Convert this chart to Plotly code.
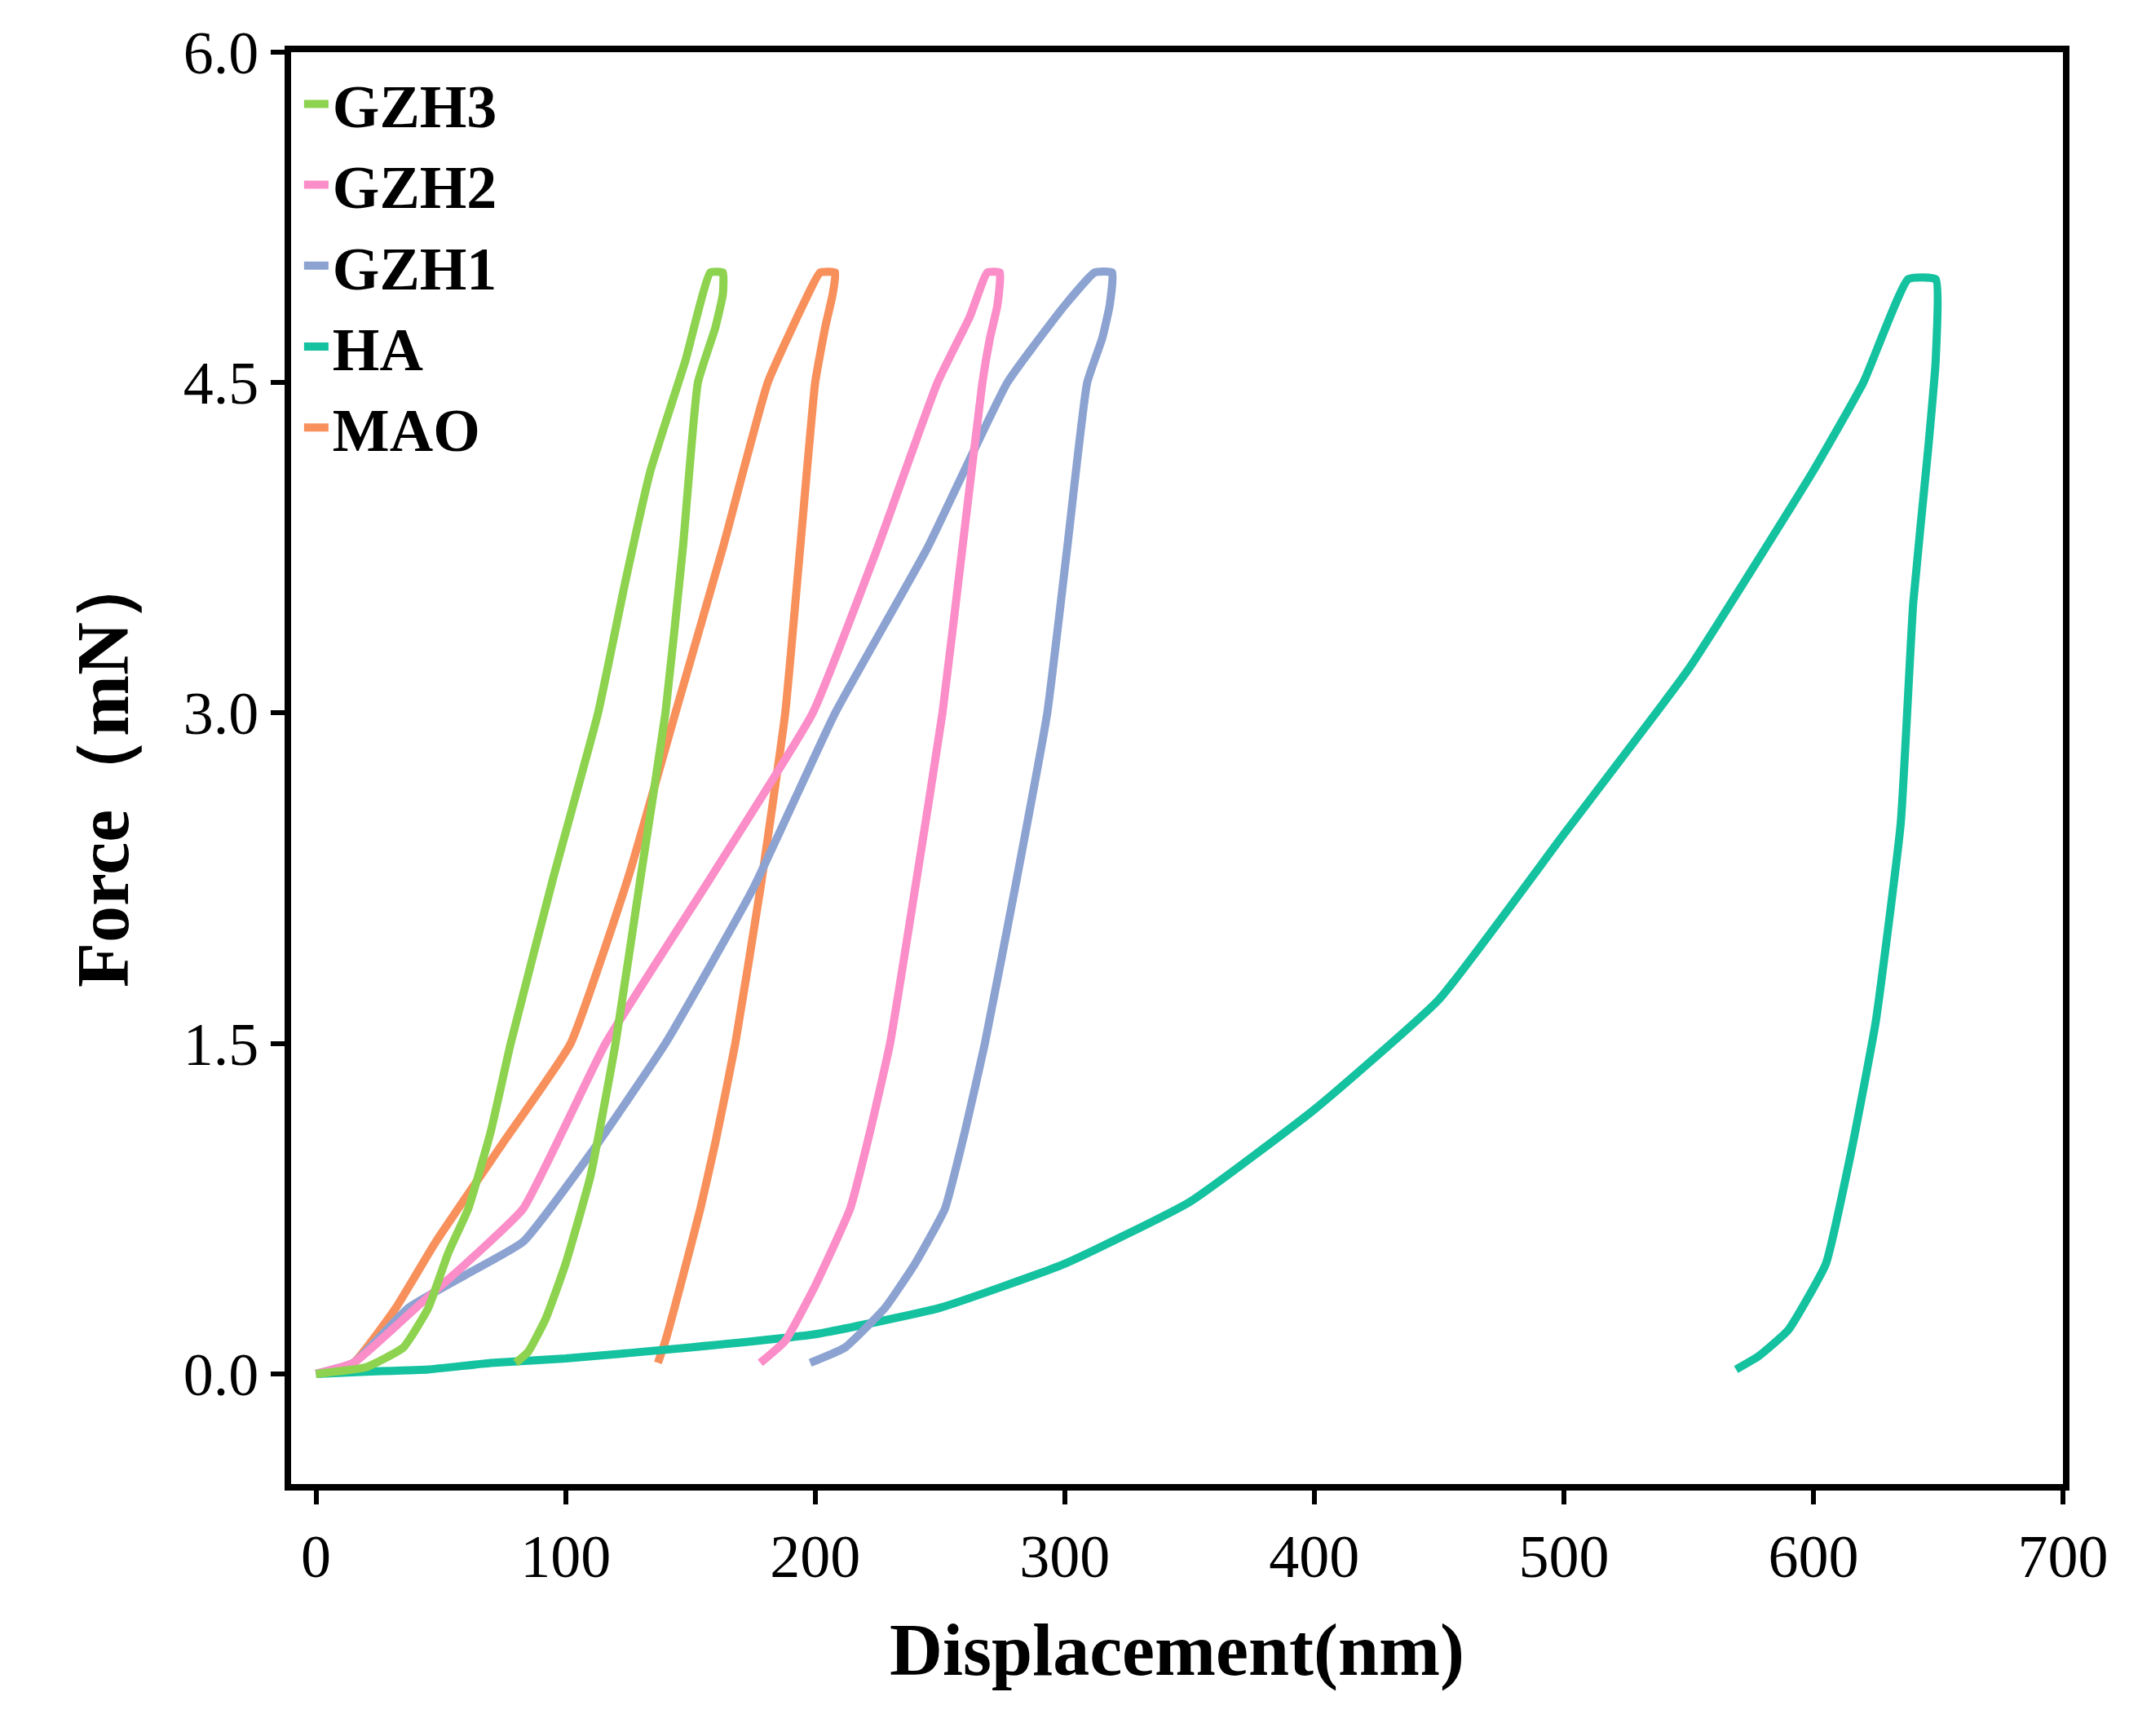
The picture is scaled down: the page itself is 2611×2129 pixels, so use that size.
import plotly.graph_objects as go

names = ["MAO", "HA", "GZH1", "GZH2", "GZH3"]
colors = ["#f8905c", "#14c2a0", "#8ca3d2", "#fb8dc8", "#8dd34f"]

mao_x = [0, 15, 32, 48, 75, 102, 125, 144, 163, 181, 195, 202, 208, 207, 204, 200, 194, 188, 178, 168, 160, 154, 146, 140, 137]
mao_y = [0, 0.05, 0.3, 0.6, 1.05, 1.5, 2.25, 3.0, 3.75, 4.5, 4.85, 5.0, 5.0, 4.9, 4.75, 4.5, 3.75, 3.0, 2.2, 1.5, 1.05, 0.75, 0.4, 0.15, 0.05]

ha_x = [0, 20, 45, 70, 100, 150, 200, 250, 300, 350, 400, 450, 500, 550, 600, 620, 638, 649, 649, 646, 640, 635, 625, 615, 605, 590, 578, 569]
ha_y = [0, 0.01, 0.02, 0.05, 0.07, 0.12, 0.18, 0.3, 0.5, 0.78, 1.2, 1.7, 2.45, 3.2, 4.1, 4.5, 4.97, 4.97, 4.6, 4.2, 3.5, 2.5, 1.6, 1.0, 0.5, 0.2, 0.08, 0.02]

gzh1_x = [0, 15, 37, 60, 83, 110, 140, 175, 208, 245, 277, 300, 312, 319, 318, 315, 309, 301, 293, 280, 268, 260, 252, 240, 228, 212, 198]
gzh1_y = [0, 0.05, 0.3, 0.45, 0.6, 1.0, 1.5, 2.2, 3.0, 3.75, 4.5, 4.85, 5.0, 5.0, 4.85, 4.7, 4.5, 3.75, 3.0, 2.2, 1.5, 1.1, 0.75, 0.5, 0.3, 0.12, 0.05]

gzh2_x = [0, 15, 40, 60, 83, 116, 158, 199, 225, 249, 262, 269, 274, 273, 270, 267, 259, 251, 240, 230, 222, 214, 200, 188, 178]
gzh2_y = [0, 0.05, 0.3, 0.5, 0.75, 1.5, 2.25, 3.0, 3.75, 4.5, 4.8, 5.0, 5.0, 4.85, 4.7, 4.5, 3.75, 3.0, 2.2, 1.5, 1.1, 0.75, 0.4, 0.15, 0.05]

gzh3_x = [0, 20, 35, 45, 53, 61, 70, 78, 95, 113, 124, 134, 148, 158, 163, 163, 160, 153, 147, 140, 130, 120, 110, 100, 92, 85, 80]
gzh3_y = [0, 0.03, 0.12, 0.3, 0.55, 0.75, 1.1, 1.5, 2.25, 3.0, 3.6, 4.1, 4.6, 5.0, 5.0, 4.9, 4.75, 4.5, 3.75, 3.0, 2.25, 1.5, 0.9, 0.5, 0.25, 0.1, 0.05]

xs = [mao_x, ha_x, gzh1_x, gzh2_x, gzh3_x]
ys = [mao_y, ha_y, gzh1_y, gzh2_y, gzh3_y]

x_ticks = [0, 100, 200, 300, 400, 500, 600, 700]
y_ticks = [0.0, 1.5, 3.0, 4.5, 6.0]

fig = go.Figure()
for n, c, x, y in zip(names, colors, xs, ys):
    fig.add_trace(go.Scatter(x=x, y=y, mode="lines", name="<b>" + n + "</b>",
                             line=dict(color=c, width=10, shape="spline", smoothing=0.4)))

font = "Liberation Serif"
axis_common = dict(showline=True, linewidth=8, linecolor="black", mirror=True,
                   ticks="outside", ticklen=17, tickwidth=6, tickcolor="black",
                   showgrid=False, zeroline=False,
                   tickfont=dict(family=font, size=74, color="black"))
fig.update_layout(
    width=2611, height=2129,
    margin=dict(l=349, r=89, t=56, b=317),
    plot_bgcolor="white", paper_bgcolor="white",
    xaxis=dict(range=[-10, 700], tickvals=x_ticks,
               title=dict(text="<b>Displacement(nm)</b>", font=dict(family=font, size=90, color="black"), standoff=45),
               **axis_common),
    yaxis=dict(range=[-0.5, 6.0], tickvals=y_ticks, tickformat=".1f",
               title=dict(text="<b>Force（mN）</b>", font=dict(family=font, size=90, color="black"), standoff=40),
               **axis_common),
    legend=dict(x=0.005, y=0.995, xanchor="left", yanchor="top", traceorder="reversed",
                bgcolor="rgba(0,0,0,0)", font=dict(family=font, size=74, color="black"),
                tracegroupgap=12),
    showlegend=True,
)
fig.write_html("out.html")
